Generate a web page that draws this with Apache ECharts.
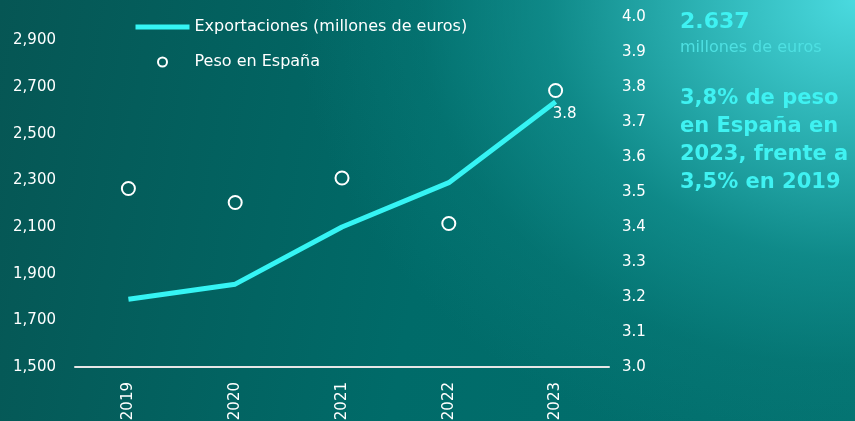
<!DOCTYPE html>
<html>
<head>
<meta charset="utf-8">
<script src="https://cdn.jsdelivr.net/npm/echarts@6/dist/echarts.min.js"></script>
<style>
*{margin:0;padding:0;}
html,body{width:855px;height:421px;overflow:hidden;}
#chart{
  width:855px;height:421px;
  background:
    radial-gradient(ellipse 560px 470px at 100% 0%, rgba(74,218,223,1) 0%, rgba(48,184,186,0.92) 28%, rgba(22,152,152,0.65) 55%, rgba(12,132,130,0.3) 78%, rgba(10,127,125,0) 100%),
    linear-gradient(100deg, #065654 0%, #006b69 50%, #03716f 100%);
}
</style>
</head>
<body>
<div id="chart"></div>
<script>
var years = ['2019', '2020', '2021', '2022', '2023'];
var exportaciones = [1790, 1855, 2100, 2290, 2637];   // millones de euros
var pesoEspana = [3.51, 3.47, 3.54, 3.41, 3.79];       // %
var pesoLabels = ['', '', '', '', '3.8'];

var chart = echarts.init(document.getElementById('chart'));
var font = 'DejaVu Sans';

var option = {
  backgroundColor: 'transparent',
  textStyle: { fontFamily: font },
  grid: { left: 75, right: 246, top: 17, bottom: 54, outerBoundsMode: 'none' },
  legend: {
    orient: 'vertical',
    left: 128,
    top: 14,
    itemWidth: 54,
    itemHeight: 9,
    itemGap: 19,
    textStyle: { color: '#ffffff', fontSize: 16, fontFamily: font },
    data: [
      { name: 'Exportaciones (millones de euros)', lineStyle: { width: 5 }, itemStyle: { opacity: 0 } },
      { name: 'Peso en España', icon: 'circle' }
    ]
  },
  xAxis: {
    type: 'category',
    data: years,
    axisLine: { lineStyle: { color: '#e6e6e6', width: 2 } },
    axisTick: { show: false },
    axisLabel: { rotate: 90, color: '#ffffff', fontSize: 15, margin: 15 }
  },
  yAxis: [
    {
      type: 'value',
      min: 1500, max: 3000, interval: 100,
      splitLine: { show: false },
      axisLine: { show: false },
      axisTick: { show: false },
      axisLabel: {
        color: '#ffffff', fontSize: 15, margin: 19,
        formatter: function (v) {
          if ((v - 1500) % 200 !== 0 || v >= 3000) return '';
          return v.toLocaleString('en-US');
        }
      }
    },
    {
      type: 'value',
      min: 3.0, max: 4.0, interval: 0.1,
      position: 'right',
      splitLine: { show: false },
      axisLine: { show: false },
      axisTick: { show: false },
      axisLabel: {
        color: '#ffffff', fontSize: 15, margin: 13,
        formatter: function (v) { return v.toFixed(1); }
      }
    }
  ],
  series: [
    {
      name: 'Exportaciones (millones de euros)',
      type: 'line',
      yAxisIndex: 0,
      data: exportaciones,
      symbol: 'none',
      lineStyle: { color: '#35f4f4', width: 5 },
      itemStyle: { color: '#35f4f4' },
      z: 2
    },
    {
      name: 'Peso en España',
      type: 'scatter',
      yAxisIndex: 1,
      data: pesoEspana.map(function (v, i) {
        return pesoLabels[i] ? { value: v, label: { show: true, formatter: pesoLabels[i] } } : v;
      }),
      symbol: 'circle',
      symbolSize: 13,
      itemStyle: { color: 'rgba(0,0,0,0)', borderColor: '#ffffff', borderWidth: 2, opacity: 1 },
      label: {
        show: false,
        position: 'bottom',
        distance: 9,
        offset: [9, 0],
        color: '#ffffff',
        fontSize: 15,
        fontFamily: font
      },
      z: 3
    }
  ],
  graphic: [
    {
      type: 'text', left: 680, top: 11,
      style: { text: '2.637', fill: '#3ff2f2', font: 'bold 22px "DejaVu Sans"' }
    },
    {
      type: 'text', left: 680, top: 40,
      style: { text: 'millones de euros', fill: '#4ee0e2', font: '16px "DejaVu Sans"' }
    },
    {
      type: 'text', left: 680, top: 85,
      style: {
        text: '3,8% de peso\nen España en\n2023, frente a\n3,5% en 2019',
        fill: '#3ff2f2', font: 'bold 21px "DejaVu Sans"', lineHeight: 28
      }
    }
  ]
};

chart.setOption(option);
</script>
</body>
</html>
